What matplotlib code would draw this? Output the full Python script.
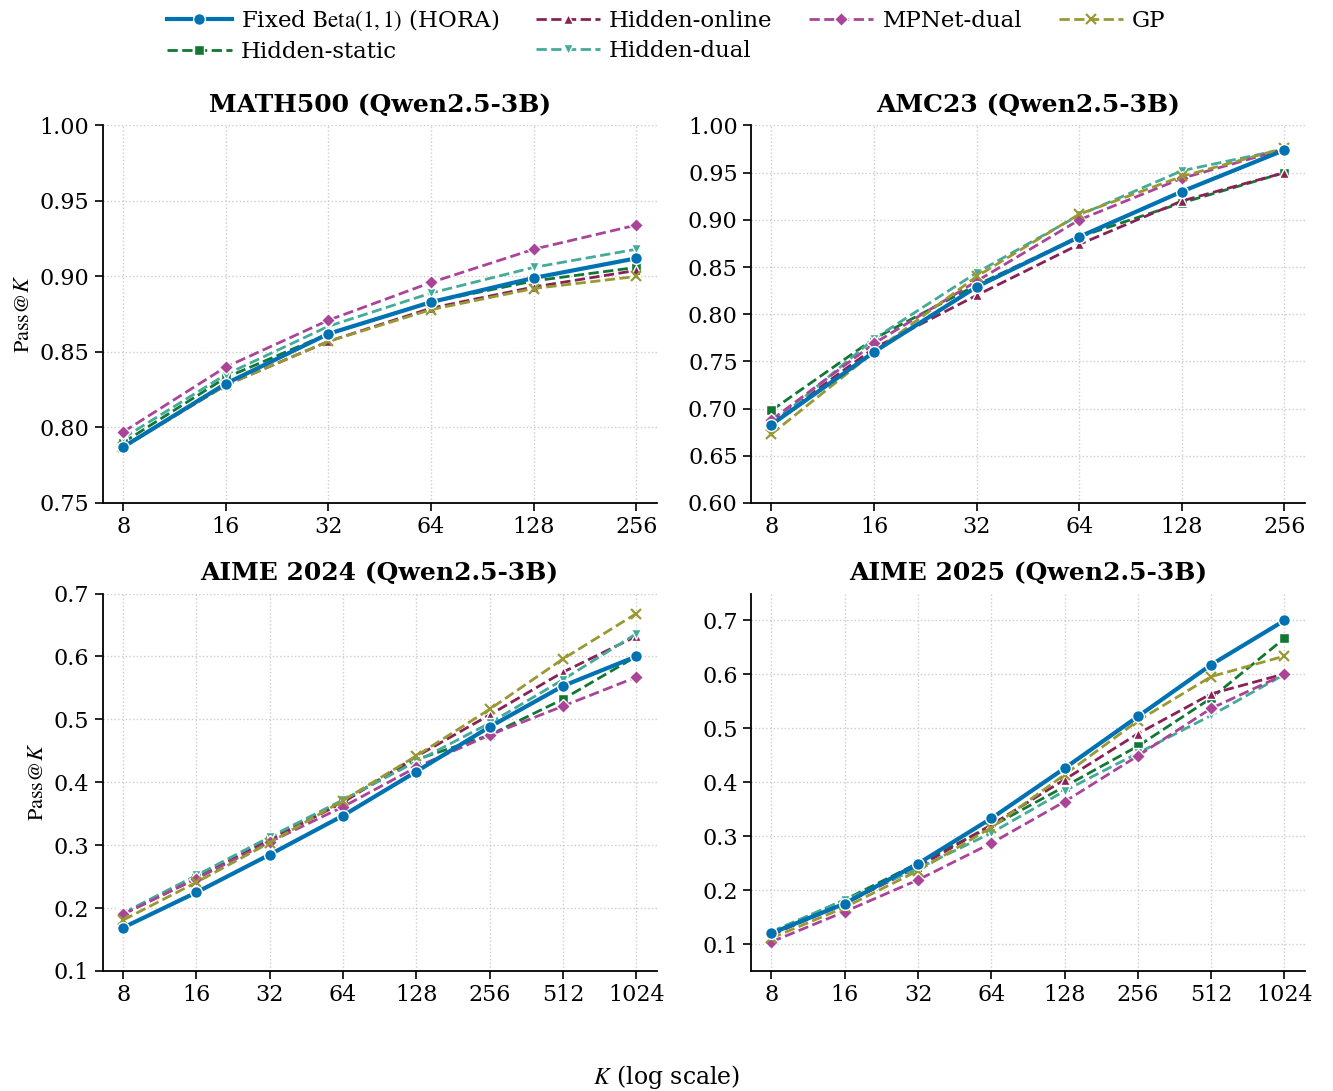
import numpy as np
import matplotlib
matplotlib.use("Agg")
import matplotlib.pyplot as plt

plt.rcParams['font.family'] = ['DejaVu Serif']
plt.rcParams['mathtext.fontset'] = 'stix'

# sample budgets
k_short = [8, 16, 32, 64, 128, 256]
k_long = [8, 16, 32, 64, 128, 256, 512, 1024]

methods = ["Fixed $\\mathrm{Beta}(1,1)$ (HORA)", "Hidden-static", "Hidden-online",
           "Hidden-dual", "MPNet-dual", "GP"]

# pass@K per method, MATH500
math500 = [
    [0.787, 0.829, 0.862, 0.883, 0.899, 0.912],
    [0.790, 0.833, 0.862, 0.883, 0.897, 0.906],
    [0.787, 0.828, 0.857, 0.879, 0.893, 0.904],
    [0.793, 0.835, 0.867, 0.889, 0.906, 0.918],
    [0.797, 0.840, 0.871, 0.896, 0.918, 0.934],
    [0.787, 0.828, 0.857, 0.878, 0.892, 0.900],
]
# AMC23
amc23 = [
    [0.683, 0.760, 0.829, 0.882, 0.930, 0.974],
    [0.698, 0.774, 0.831, 0.882, 0.918, 0.950],
    [0.685, 0.764, 0.820, 0.874, 0.920, 0.950],
    [0.683, 0.774, 0.844, 0.905, 0.952, 0.975],
    [0.688, 0.769, 0.835, 0.900, 0.944, 0.975],
    [0.673, 0.760, 0.840, 0.906, 0.946, 0.976],
]
# AIME 2024
aime24 = [
    [0.169, 0.225, 0.285, 0.347, 0.417, 0.488, 0.553, 0.600],
    [0.191, 0.249, 0.310, 0.371, 0.436, 0.475, 0.532, 0.600],
    [0.191, 0.247, 0.308, 0.368, 0.441, 0.507, 0.575, 0.632],
    [0.192, 0.252, 0.313, 0.372, 0.433, 0.494, 0.563, 0.636],
    [0.190, 0.247, 0.305, 0.361, 0.424, 0.475, 0.521, 0.567],
    [0.181, 0.241, 0.304, 0.371, 0.442, 0.516, 0.596, 0.668],
]
# AIME 2025
aime25 = [
    [0.120, 0.175, 0.249, 0.333, 0.426, 0.522, 0.618, 0.700],
    [0.120, 0.182, 0.250, 0.318, 0.392, 0.467, 0.556, 0.667],
    [0.117, 0.175, 0.243, 0.321, 0.405, 0.490, 0.564, 0.601],
    [0.123, 0.182, 0.240, 0.306, 0.384, 0.454, 0.524, 0.600],
    [0.104, 0.160, 0.219, 0.287, 0.364, 0.449, 0.537, 0.600],
    [0.111, 0.168, 0.236, 0.316, 0.414, 0.514, 0.596, 0.634],
]

colors = ["#0072B2", "#117733", "#882255", "#44AA99", "#AA4499", "#999933"]
markers = ["o", "s", "^", "v", "D", "x"]

panels = [
    ("MATH500 (Qwen2.5-3B)", k_short, math500, (0.75, 1.00), np.arange(0.75, 1.001, 0.05), "{:.2f}"),
    ("AMC23 (Qwen2.5-3B)", k_short, amc23, (0.60, 1.00), np.arange(0.60, 1.001, 0.05), "{:.2f}"),
    ("AIME 2024 (Qwen2.5-3B)", k_long, aime24, (0.10, 0.70), np.arange(0.1, 0.701, 0.1), "{:.1f}"),
    ("AIME 2025 (Qwen2.5-3B)", k_long, aime25, (0.05, 0.75), np.arange(0.1, 0.701, 0.1), "{:.1f}"),
]

fig, axes = plt.subplots(2, 2, figsize=(13.33, 10.91), dpi=100)
fig.subplots_adjust(left=0.077, right=0.979, top=0.885, bottom=0.11,
                    hspace=0.24, wspace=0.17)

for ax, (title, ks, vals, ylim, yt, fmt) in zip(axes.flat, panels):
    for i, name in enumerate(methods):
        fixed = i == 0
        ax.plot(ks, vals[i], color=colors[i], marker=markers[i],
                linestyle="-" if fixed else "--", lw=3 if fixed else 2,
                ms=8.5 if fixed else 7.5, mec="white" if markers[i] != "x" else colors[i],
                mew=1 if markers[i] != "x" else 1.6, label=name, zorder=3 if fixed else 2)
    ax.set_xscale("log", base=2)
    ax.set_xticks(ks)
    ax.set_xticklabels([str(k) for k in ks])
    ax.minorticks_off()
    ax.margins(x=0.04)
    ax.set_ylim(*ylim)
    ax.set_yticks(yt)
    ax.set_yticklabels([fmt.format(v) for v in yt])
    ax.tick_params(labelsize=16, length=6, width=1.2)
    ax.set_title(title, fontsize=18, fontweight="bold", pad=10)
    ax.grid(True, linestyle=":", color="#cccccc", lw=1)
    for s in ["top", "right"]:
        ax.spines[s].set_visible(False)
    for s in ["left", "bottom"]:
        ax.spines[s].set_linewidth(1.3)

for ax in axes[:, 0]:
    ax.set_ylabel("$\\mathrm{Pass}@K$", fontsize=16)

handles, labels = axes[0, 0].get_legend_handles_labels()
fig.legend(handles, labels, loc="upper center", ncol=4, frameon=False,
           fontsize=16.5, bbox_to_anchor=(0.5, 1.012), handlelength=2.8,
           columnspacing=1.6, handletextpad=0.4, labelspacing=0.35)
fig.supxlabel("$K$ (log scale)", fontsize=17, y=0.0)

fig.savefig("out.png", dpi=100)
